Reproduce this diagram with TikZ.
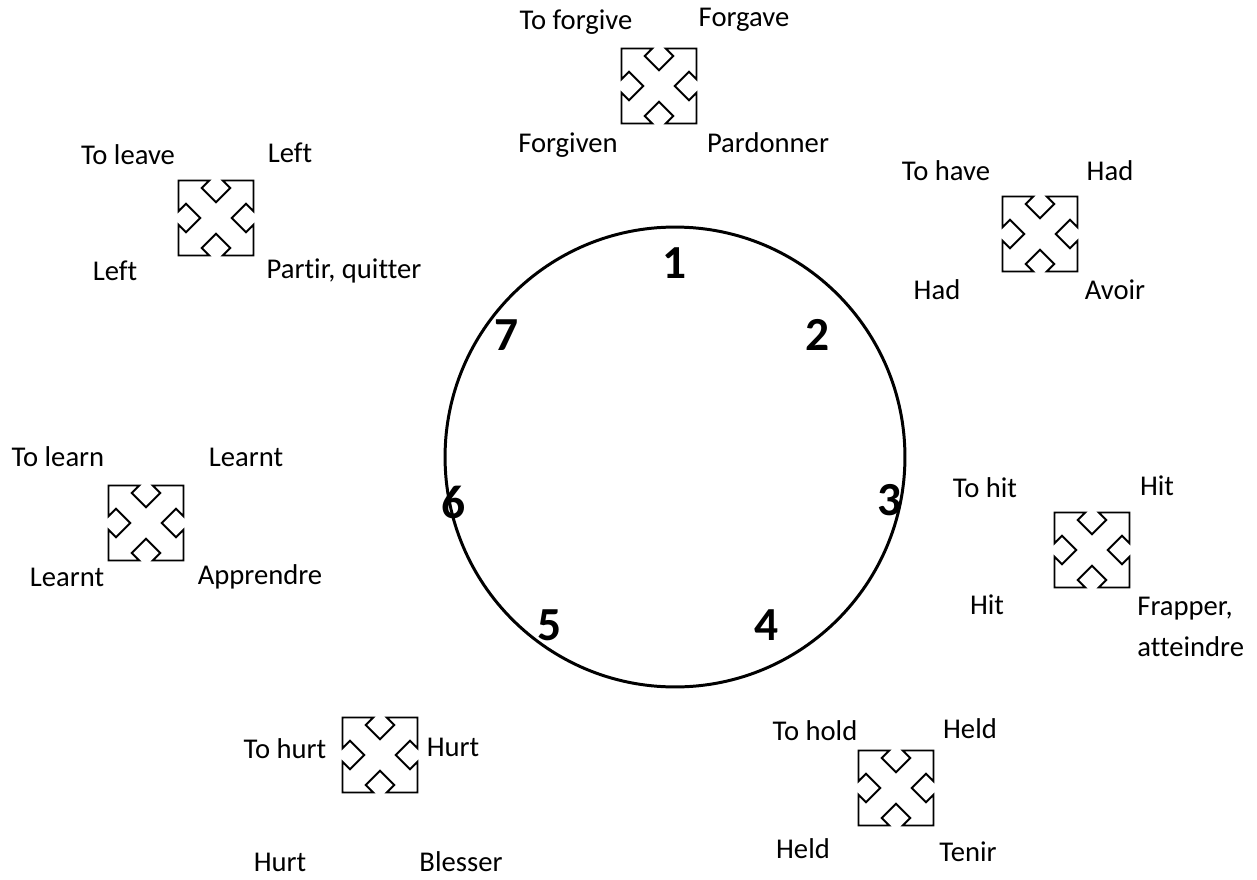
\documentclass[tikz,border=0pt]{standalone}
\usepackage{fontspec}
\setmainfont{Carlito}[Ligatures={NoCommon,NoContextual}]
\usepackage{tikz}

\begin{document}
\begin{tikzpicture}[
    x=0.02cm, y=-0.02cm,
    word/.style={font=\fontsize{16.3}{19}\selectfont, inner sep=0pt},
    num/.style={font=\fontsize{27}{30}\selectfont\bfseries, inner sep=0pt},
    quadarrow/.pic={
        \draw[line width=1.1pt, line join=miter]
            (-37.5,-37.5) -- (-6.75,-37.5) -- (-14.25,-30) -- (0,-15.75) -- (14.25,-30) -- (6.75,-37.5)
            -- (37.5,-37.5) -- (37.5,-6.75) -- (30,-14.25) -- (15.75,0) -- (30,14.25) -- (37.5,6.75)
            -- (37.5,37.5) -- (6.75,37.5) -- (14.25,30) -- (0,15.75) -- (-14.25,30) -- (-6.75,37.5)
            -- (-37.5,37.5) -- (-37.5,6.75) -- (-30,14.25) -- (-15.75,0) -- (-30,-14.25) -- (-37.5,-6.75)
            -- cycle;
    },
]
    \useasboundingbox (0,0) rectangle (1257,879);

    % clock
    \node[draw, circle, line width=1.7pt, minimum size=9.2cm, inner sep=0pt] (clock) at (675,457) {};
    \node[num] (n1) at (675,263) {1};
    \node[num] (n2) at (818,335) {2};
    \node[num] (n3) at (890,500) {3};
    \node[num] (n4) at (767,625) {4};
    \node[num] (n5) at (550,625) {5};
    \node[num] (n6) at (454,502) {6};
    \node[num] (n7) at (507,335) {7};

    % 1 - forgive
    \pic at (659,86) {quadarrow};
    \node[word] (forgive)   at (576,22)  {To forgive};
    \node[word] (forgave)   at (744,20)  {Forgave};
    \node[word] (forgiven)  at (568,145) {Forgiven};
    \node[word] (pardonner) at (768,143) {Pardonner};

    % 2 - have
    \pic at (1040,234) {quadarrow};
    \node[word] (have)  at (946,171)  {To have};
    \node[word] (hadA)  at (1110,171) {Had};
    \node[word] (hadB)  at (937,290)  {Had};
    \node[word] (avoir) at (1115,290) {Avoir};

    % 3 - hit
    \pic at (1092,550) {quadarrow};
    \node[word] (tohit)   at (985,488)  {To hit};
    \node[word] (hitA)    at (1157,486) {Hit};
    \node[word] (hitB)    at (987,605)  {Hit};
    \node[word, align=left, anchor=west] (frapper) at (1137,627) {Frapper,\\[4pt]atteindre};

    % 4 - hold
    \pic at (896,788) {quadarrow};
    \node[word] (tohold) at (815,731) {To hold};
    \node[word] (heldA)  at (970,729) {Held};
    \node[word] (heldB)  at (803,849) {Held};
    \node[word] (tenir)  at (968,852) {Tenir};

    % 5 - hurt
    \pic at (380,755) {quadarrow};
    \node[word] (tohurt)  at (285,749) {To hurt};
    \node[word] (hurtA)   at (453,747) {Hurt};
    \node[word] (hurtB)   at (280,862) {Hurt};
    \node[word] (blesser) at (461,862) {Blesser};

    % 6 - learn
    \pic at (146,523) {quadarrow};
    \node[word] (tolearn)   at (58,457)  {To learn};
    \node[word] (learntA)   at (246,457) {Learnt};
    \node[word] (learntB)   at (67,577)  {Learnt};
    \node[word] (apprendre) at (260,577) {Apprendre};

    % 7 - leave
    \pic at (216,218) {quadarrow};
    \node[word] (toleave) at (128,155) {To leave};
    \node[word] (leftA)   at (290,153) {Left};
    \node[word] (leftB)   at (115,271) {Left};
    \node[word] (partir)  at (344,271) {Partir, quitter};
\end{tikzpicture}
\end{document}
